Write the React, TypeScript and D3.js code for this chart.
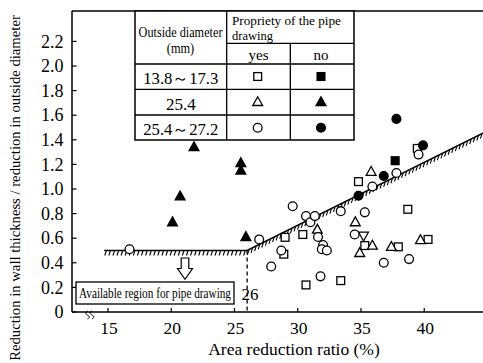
import React, { useLayoutEffect, useRef, useState } from "react";
import * as d3 from "d3";

const xTicks = [15, 20, 25, 30, 35, 40];
const yTicks = [0, 0.2, 0.4, 0.6, 0.8, 1.0, 1.2, 1.4, 1.6, 1.8, 2.0, 2.2];
const yTickLabels = ["0", "0.2", "0.4", "0.6", "0.8", "1.0", "1.2", "1.4", "1.6", "1.8", "2.0", "2.2"];

// open circles (25.4~27.2, yes)
const openCircleX = [16.7, 26.95, 27.9, 28.7, 29.6, 30.65, 31.0, 31.35, 31.6, 32.0, 31.9, 32.3, 31.8, 33.4, 35.3, 34.5, 35.9, 37.8, 39.55, 36.8, 38.8];
const openCircleY = [0.51, 0.59, 0.37, 0.5, 0.86, 0.78, 0.73, 0.78, 0.61, 0.545, 0.51, 0.5, 0.29, 0.82, 0.81, 0.63, 1.02, 1.13, 1.28, 0.4, 0.43];
// open squares (13.8~17.3, yes)
const openSquareX = [34.8, 39.45, 38.7, 29.0, 28.9, 30.4, 30.65, 33.4, 35.3, 37.95, 40.3];
const openSquareY = [1.06, 1.33, 0.835, 0.607, 0.47, 0.63, 0.22, 0.255, 0.54, 0.53, 0.59];
// open triangles (25.4, yes)
const openTriX = [35.8, 34.55, 31.55, 35.9, 34.9, 37.4, 39.7];
const openTriY = [1.14, 0.73, 0.67, 0.54, 0.48, 0.53, 0.585];
const openInvTriX = [35.2];
const openInvTriY = [0.62];
// filled triangles (25.4, no)
const filledTriX = [21.8, 20.7, 20.1, 25.5, 25.5, 25.9];
const filledTriY = [1.34, 0.94, 0.73, 1.21, 1.15, 0.61];
// filled circles (25.4~27.2, no)
const filledCircleX = [37.8, 39.9, 36.8, 34.8];
const filledCircleY = [1.57, 1.355, 1.106, 0.945];
// filled squares (13.8~17.3, no)
const filledSquareX = [37.7];
const filledSquareY = [1.23];

// boundary of available region
const boundaryX = [14.7, 26, 44.7];
const boundaryY = [0.5, 0.5, 1.457];
const criticalRatio = 26;

const W = 483;
const H = 363;
const FONT = '"Liberation Serif", "DejaVu Serif", "Noto Serif", "Times New Roman", Times, serif';
const TS: React.CSSProperties = { fontFamily: FONT };

const x = d3.scaleLinear().domain([15, 40]).range([108, 424.25]);
const y = d3.scaleLinear().domain([0, 2.2]).range([312, 41.4]);

const LEFT = 72;
const TOP = 11;
const BOTTOM = 312;

// Text horizontally scaled to a target width (condensed typesetting of the original)
function FitText({ x: tx, y: ty, width, size, anchor = "start", rotate = 0, children }:
  { x: number; y: number; width: number; size: number; anchor?: "start" | "middle" | "end"; rotate?: number; children: string }) {
  const ref = useRef<SVGTextElement>(null);
  const [s, setS] = useState(1);
  useLayoutEffect(() => {
    if (ref.current) {
      const nat = ref.current.getComputedTextLength();
      if (nat > 0) setS(width / nat);
    }
  }, [width, children]);
  const rot = rotate ? ` rotate(${rotate})` : "";
  return (
    <text ref={ref} style={TS} transform={`translate(${tx},${ty})${rot} scale(${s},1)`} textAnchor={anchor} fontSize={size}>
      {children}
    </text>
  );
}

function Marker({ kind, cx, cy }: { kind: string; cx: number; cy: number }) {
  const sw = 1.3;
  if (kind === "circle" || kind === "fcircle") {
    return <circle cx={cx} cy={cy} r={4.4} fill={kind === "fcircle" ? "#000" : "#fff"} stroke="#000" strokeWidth={sw} />;
  }
  if (kind === "square" || kind === "fsquare") {
    const s = 7.8;
    return <rect x={cx - s / 2} y={cy - s / 2} width={s} height={s} fill={kind === "fsquare" ? "#000" : "#fff"} stroke="#000" strokeWidth={sw} />;
  }
  if (kind === "tri" || kind === "ftri") {
    const h = 8.8, w = 9.8;
    const d = `M${cx},${cy - h * 0.6}L${cx + w / 2},${cy + h * 0.4}L${cx - w / 2},${cy + h * 0.4}Z`;
    return <path d={d} fill={kind === "ftri" ? "#000" : "#fff"} stroke="#000" strokeWidth={sw} />;
  }
  if (kind === "itri") {
    const h = 8.8, w = 9.8;
    const d = `M${cx},${cy + h * 0.6}L${cx + w / 2},${cy - h * 0.4}L${cx - w / 2},${cy - h * 0.4}Z`;
    return <path d={d} fill="#fff" stroke="#000" strokeWidth={sw} />;
  }
  return null;
}

function series(xs: number[], ys: number[], kind: string) {
  return xs.map((v, i) => <Marker key={kind + i} kind={kind} cx={x(v)} cy={y(ys[i])} />);
}

function hatchTicks() {
  const ticks: string[] = [];
  for (let s = 0; s < boundaryX.length - 1; s++) {
    const x0 = x(boundaryX[s]), y0 = y(boundaryY[s]);
    const x1 = x(boundaryX[s + 1]), y1 = y(boundaryY[s + 1]);
    const len = Math.hypot(x1 - x0, y1 - y0);
    const n = Math.floor(len / 4);
    for (let k = 0; k < n; k++) {
      const t = (k + 0.5) / n;
      const px = x0 + (x1 - x0) * t;
      const py = y0 + (y1 - y0) * t;
      ticks.push(`M${px},${py + 0.5}L${px - 1.5},${py + 5}`);
    }
  }
  return ticks.join("");
}

export default function App() {
  const boundaryLine = d3.line<number>().x((d) => x(d)).y((_, i) => y(boundaryY[i]))(boundaryX) || "";

  // table geometry
  const tL = 135, tR = 354, tT = 11, tB = 140;
  const c1 = 226.7, c2 = 290.3;
  const hMid = 43.3, hB = 64, r1 = 89.3, r2 = 115;

  const arrowX = 185;
  const aTop = 258, aNeck = 268.5, aTip = 279.3;
  const arrowPath = `M${arrowX - 3.8},${aTop}L${arrowX + 3.8},${aTop}L${arrowX + 3.8},${aNeck}L${arrowX + 7.5},${aNeck}L${arrowX},${aTip}L${arrowX - 7.5},${aNeck}L${arrowX - 3.8},${aNeck}Z`;

  return (
    <svg width={W} height={H} style={{ position: "absolute", left: 0, top: 0, background: "#fff" }}>
      <rect x={0} y={0} width={W} height={H} fill="#fff" />
      {/* axes */}
      <line x1={LEFT} y1={TOP} x2={W} y2={TOP} stroke="#000" strokeWidth={1.5} />
      <line x1={LEFT} y1={TOP} x2={LEFT} y2={BOTTOM} stroke="#000" strokeWidth={1.5} />
      <line x1={LEFT} y1={BOTTOM} x2={W} y2={BOTTOM} stroke="#000" strokeWidth={1.5} />
      {yTicks.map((t, i) => (
        <g key={"yt" + i}>
          <line x1={LEFT} x2={LEFT + 4.5} y1={y(t)} y2={y(t)} stroke="#000" strokeWidth={1.2} />
          <text style={TS} x={63.5} y={y(t)} dy="0.34em" textAnchor="end" fontSize={18}>{yTickLabels[i]}</text>
        </g>
      ))}
      {xTicks.map((t) => (
        <g key={"xt" + t}>
          <line x1={x(t)} x2={x(t)} y1={BOTTOM} y2={BOTTOM - 4} stroke="#000" strokeWidth={1.2} />
          <text style={TS} x={x(t) + 1} y={333.5} textAnchor="middle" fontSize={17.5}>{t}</text>
        </g>
      ))}
      {/* axis break */}
      <path d="M87.5,311 c-2.5,1.5 -2.5,2.5 0,4 c2.5,1.5 2.5,2.5 0,4 M92,311 c-2.5,1.5 -2.5,2.5 0,4 c2.5,1.5 2.5,2.5 0,4" fill="none" stroke="#000" strokeWidth={1} />
      <text style={TS} x={294} y={355} textAnchor="middle" fontSize={17.5}>Area reduction ratio (%)</text>
      <FitText x={20} y={188} rotate={-90} anchor="middle" size={15} width={346}>
        Reduction in wall thickness / reduction in outside diameter
      </FitText>

      {/* boundary with hatching */}
      <path d={boundaryLine} fill="none" stroke="#000" strokeWidth={1.6} />
      <path d={hatchTicks()} fill="none" stroke="#000" strokeWidth={1.1} />
      <line x1={x(criticalRatio)} x2={x(criticalRatio)} y1={y(0.5)} y2={BOTTOM} stroke="#000" strokeWidth={1.3} strokeDasharray="4,3" />
      <text style={TS} x={250} y={300} textAnchor="middle" fontSize={17}>26</text>

      {/* arrow and region label */}
      <path d={arrowPath} fill="#fff" stroke="#000" strokeWidth={1.2} />
      <rect x={76} y={282} width={158} height={22} fill="#fff" stroke="#000" strokeWidth={1.3} />
      <FitText x={155} y={298} anchor="middle" size={15} width={152}>Available region for pipe drawing</FitText>

      {/* data */}
      {series(openSquareX, openSquareY, "square")}
      {series(openTriX, openTriY, "tri")}
      {series(openInvTriX, openInvTriY, "itri")}
      {series(openCircleX, openCircleY, "circle")}
      {series(filledTriX, filledTriY, "ftri")}
      {series(filledSquareX, filledSquareY, "fsquare")}
      {series(filledCircleX, filledCircleY, "fcircle")}

      {/* legend table */}
      <rect x={tL} y={tT} width={tR - tL} height={tB - tT} fill="#fff" stroke="#000" strokeWidth={1.5} />
      <line x1={c1} x2={c1} y1={tT} y2={tB} stroke="#000" strokeWidth={1.3} />
      <line x1={c2} x2={c2} y1={hMid} y2={tB} stroke="#000" strokeWidth={1.3} />
      <line x1={c1} x2={tR} y1={hMid} y2={hMid} stroke="#000" strokeWidth={1.3} />
      <line x1={tL} x2={tR} y1={hB} y2={hB} stroke="#000" strokeWidth={1.3} />
      <line x1={tL} x2={tR} y1={r1} y2={r1} stroke="#000" strokeWidth={1.3} />
      <line x1={tL} x2={tR} y1={r2} y2={r2} stroke="#000" strokeWidth={1.3} />
      <FitText x={180.5} y={36.5} anchor="middle" size={14} width={84}>Outside diameter</FitText>
      <FitText x={180.5} y={52.5} anchor="middle" size={14} width={27.5}>(mm)</FitText>
      <FitText x={232} y={25} size={12.5} width={109}>Propriety of the pipe</FitText>
      <FitText x={232} y={39.5} size={12.5} width={41}>drawing</FitText>
      <text style={TS} x={258.5} y={60} textAnchor="middle" fontSize={15}>yes</text>
      <text style={TS} x={321} y={60} textAnchor="middle" fontSize={15}>no</text>
      <FitText x={180.8} y={83.5} anchor="middle" size={17} width={75}>13.8～17.3</FitText>
      <text style={TS} x={180.8} y={109.5} textAnchor="middle" fontSize={17}>25.4</text>
      <FitText x={180.8} y={134.5} anchor="middle" size={17} width={75}>25.4～27.2</FitText>
      <Marker kind="square" cx={257.7} cy={76.5} />
      <Marker kind="fsquare" cx={321} cy={76.5} />
      <Marker kind="tri" cx={257.7} cy={102} />
      <Marker kind="ftri" cx={321} cy={102} />
      <Marker kind="circle" cx={257.7} cy={127.7} />
      <Marker kind="fcircle" cx={321} cy={127.7} />
    </svg>
  );
}
